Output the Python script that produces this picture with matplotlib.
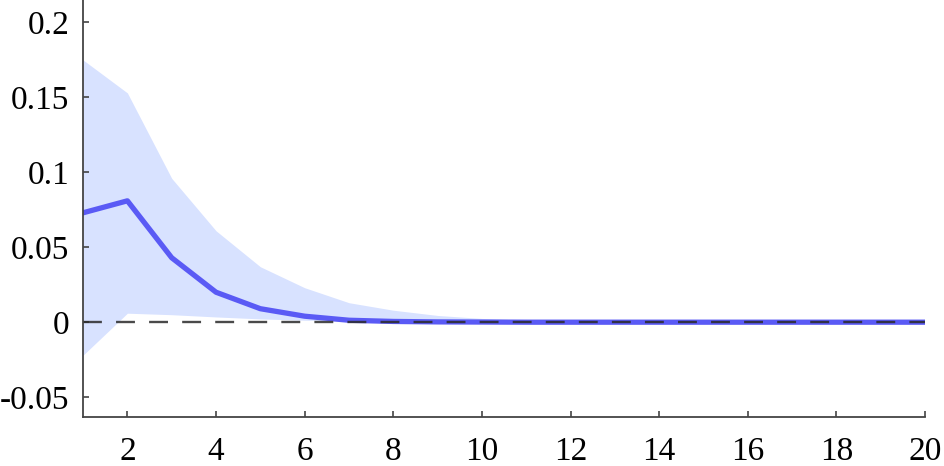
import matplotlib.pyplot as plt

plt.rcParams['font.family'] = ['Liberation Serif', 'DejaVu Serif']

# impulse response and band, horizons 1..20
horizon = list(range(1, 21))
response = [0.073, 0.081, 0.043, 0.020, 0.009, 0.004, 0.0013, 0.0005, 0.0002, 0.0001,
            0, 0, 0, 0, 0, 0, 0, 0, 0, 0]
upper = [0.175, 0.153, 0.096, 0.061, 0.037, 0.023, 0.013, 0.008, 0.0045, 0.0025,
         0.0013, 0.0007, 0.0004, 0.0002, 0.0001, 0.0001, 0, 0, 0, 0]
lower = [-0.022, 0.006, 0.005, 0.0035, 0.0022, 0.0013, 0.0007, 0.0003, 0.0001, 0,
         0, 0, 0, 0, 0, 0, 0, 0, 0, 0]
xticks = [2, 4, 6, 8, 10, 12, 14, 16, 18, 20]
yticks = [-0.05, 0, 0.05, 0.1, 0.15, 0.2]
ylabels = ['-0.05', '0', '0.05', '0.1', '0.15', '0.2']

fig = plt.figure(figsize=(9.44, 4.66), dpi=100)
ax = fig.add_axes([0.088, 0.106, 0.892, 0.894])

ax.fill_between(horizon, lower, upper, color='#d8e2ff', lw=0)
ax.plot(horizon, response, color='#5a5af5', lw=3.8, solid_joinstyle='round')
ax.axhline(0, color='#2a2a2a', lw=1.7, dashes=(8, 6), alpha=0.85)

ax.set_xlim(1, 20)
ax.set_ylim(-0.063, 0.215)
ax.set_xticks(xticks)
ax.set_yticks(yticks)
ax.set_yticklabels(ylabels)

for side in ['top', 'right']:
    ax.spines[side].set_visible(False)
for side in ['left', 'bottom']:
    ax.spines[side].set_color('#444444')
    ax.spines[side].set_linewidth(1.3)

ax.tick_params(direction='in', length=4, width=1.2, color='#444444', labelsize=24)
ax.tick_params(axis='x', pad=14)
ax.tick_params(axis='y', pad=10)

fig.savefig('out.png', dpi=100)
